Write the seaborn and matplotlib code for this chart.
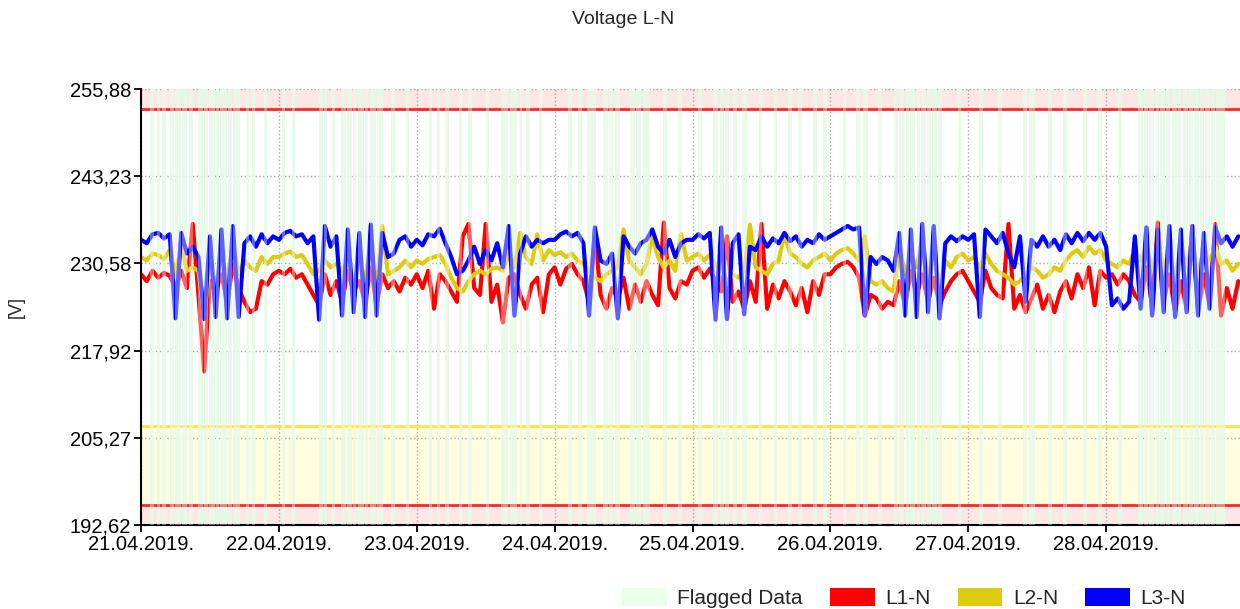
import numpy as np
import pandas as pd
import matplotlib
matplotlib.use("Agg")
import matplotlib.pyplot as plt
import matplotlib.dates as mdates
from matplotlib.patches import Patch
import seaborn as sns

# hourly readings from 21.04.2019 00:00, values in volts
l1_n = [
    229.0, 228.0, 229.5, 228.5, 229.2, 228.8, 227.0, 229.5, 227.0, 236.3, 226.0, 214.9,
    228.0, 226.5, 229.0, 225.0, 230.5, 227.0, 225.0, 223.5, 224.0, 228.0, 227.5, 229.0,
    229.5, 229.0, 229.8, 228.5, 229.0, 227.5, 226.0, 224.5, 229.0, 226.0, 228.0, 225.0,
    229.5, 226.5, 228.0, 225.0, 230.0, 224.5, 229.0, 227.0, 228.0, 226.5, 228.5, 227.5,
    229.0, 227.0, 229.5, 224.0, 229.0, 228.0, 226.5, 225.0, 234.5, 236.3, 227.0, 226.0,
    236.3, 225.0, 227.5, 222.0, 228.5, 229.0, 226.0, 224.0, 227.5, 228.5, 223.5, 229.0,
    230.0, 227.5, 229.8, 230.5, 229.0, 228.0, 225.0, 235.0, 226.0, 224.0, 227.0, 225.5,
    228.5, 224.0, 227.5, 225.0, 228.0, 226.0, 224.5, 236.5, 227.0, 225.5, 228.0, 227.5,
    229.5, 230.0, 228.5, 229.8, 228.0, 226.5, 234.5, 225.0, 226.5, 224.0, 228.0, 225.0,
    236.3, 224.0, 227.5, 225.5, 228.0, 226.5, 224.5, 227.0, 223.5, 228.0, 226.0, 229.0,
    229.0, 230.0, 230.5, 230.8, 230.0, 228.5, 223.0, 226.0, 225.5, 224.0, 225.0, 224.5,
    228.0, 224.5, 229.5, 226.0, 229.0, 225.0, 228.5, 224.5, 226.5, 228.0, 229.0, 229.5,
    228.0, 226.5, 225.0, 229.5, 227.0, 226.0, 225.5, 236.3, 224.0, 226.0, 223.5, 225.5,
    227.5, 224.0, 226.0, 223.5, 226.5, 228.0, 225.5, 229.0, 227.0, 230.0, 224.5, 229.5,
    228.5, 229.0, 227.5, 229.0, 228.0, 226.0, 225.0, 230.0, 224.5, 236.5, 225.0, 229.0,
    223.5, 228.0, 224.0, 236.0, 223.5, 229.0, 224.5, 236.3, 223.0, 227.0, 224.0, 228.0,
]
l2_n = [
    231.5, 231.0, 232.0, 231.8, 231.2, 232.5, 229.0, 233.0, 229.5, 230.0, 229.5, 223.0,
    231.0, 227.0, 232.0, 228.0, 233.5, 229.0, 231.0, 230.0, 229.5, 231.5, 230.5, 231.5,
    231.5, 232.0, 232.3, 231.5, 231.8, 230.5, 229.0, 229.5, 231.0, 230.0, 230.5, 229.5,
    231.0, 228.0, 230.5, 228.5, 233.0, 227.0, 236.0, 229.0, 229.5, 230.0, 231.0, 230.0,
    231.0, 230.5, 231.2, 231.5, 231.8, 230.5, 228.5, 227.0, 226.5, 228.0, 229.0, 229.5,
    229.0, 229.8, 230.0, 229.5, 232.0, 230.0, 235.0, 231.5, 230.5, 234.8, 231.0, 232.5,
    231.8, 232.2, 231.5, 232.0, 231.0, 230.5, 229.5, 228.5, 228.0, 229.0, 229.5, 230.0,
    235.5, 231.0, 230.0, 229.0, 230.5, 234.5, 231.5, 230.0, 231.0, 229.5, 234.8, 231.0,
    231.5, 232.0, 231.0, 231.8, 230.5, 229.5, 228.0, 229.0, 228.5, 229.5, 236.2, 230.0,
    229.5, 229.0, 230.5, 231.0, 234.8, 232.0, 231.5, 230.5, 230.0, 231.0, 231.5, 232.0,
    231.0, 232.0, 232.5, 232.8, 232.0, 231.0, 234.5, 228.0, 227.5, 228.0, 227.0, 226.5,
    233.0, 229.0, 232.0, 230.0, 234.0, 227.5, 233.5, 226.0, 231.0, 230.0, 231.5, 232.0,
    231.0, 231.5, 230.0, 232.0, 230.5, 229.5, 229.0, 228.5, 227.5, 228.0, 229.0, 230.0,
    229.5, 228.5, 229.0, 230.0, 229.5, 231.0, 232.0, 232.5, 231.5, 233.0, 232.0, 232.5,
    231.0, 230.5, 230.0, 231.0, 230.5, 232.5, 231.0, 233.0, 229.5, 233.5, 230.0, 232.0,
    228.5, 233.0, 230.0, 234.0, 229.0, 232.5, 231.0, 233.0, 230.5, 231.0, 229.5, 230.5,
]
l3_n = [
    234.0, 233.5, 234.8, 235.0, 234.2, 234.8, 222.6, 235.0, 232.0, 233.0, 231.5, 222.5,
    234.5, 222.8, 235.5, 222.6, 236.0, 222.8, 233.5, 234.5, 233.0, 234.8, 233.5, 234.5,
    234.0, 235.0, 235.3, 234.5, 234.8, 233.5, 234.5, 222.4, 236.0, 233.0, 234.5, 223.0,
    235.5, 223.5, 235.0, 222.8, 236.2, 223.0, 235.0, 231.5, 232.0, 234.0, 234.5, 233.0,
    234.0, 233.2, 234.8, 234.5, 235.6, 233.5, 231.5, 229.0, 229.5, 231.0, 233.0, 230.5,
    232.5, 231.0, 233.5, 230.0, 236.0, 223.0, 232.0, 234.5, 233.0, 234.0, 233.5, 234.0,
    234.0, 234.8, 235.2, 234.5, 235.0, 233.5, 223.0, 235.8, 231.0, 230.5, 232.0, 222.6,
    234.5, 233.0, 232.0, 233.5, 234.0, 235.5, 233.0, 232.0, 234.0, 231.5, 233.5, 234.0,
    234.0, 234.8, 234.2, 235.0, 222.4, 235.8, 222.5, 233.5, 234.8, 223.2, 233.0, 232.5,
    234.5, 233.0, 234.2, 233.5, 235.0, 233.8, 234.5, 233.0, 234.0, 233.5, 234.8, 234.0,
    234.5, 235.0, 235.5, 236.0, 235.5, 235.8, 223.0, 231.5, 230.5, 231.5, 231.0, 229.5,
    235.0, 223.0, 235.5, 222.8, 236.3, 223.5, 236.0, 222.6, 233.5, 234.5, 233.8, 234.5,
    234.0, 234.8, 222.8, 235.5, 234.5, 233.5, 235.0, 232.0, 230.0, 234.5, 225.0, 234.0,
    233.0, 234.5, 233.0, 234.0, 232.5, 234.8, 233.5, 235.0, 233.8, 235.0, 234.0, 235.0,
    233.0, 224.5, 225.5, 224.0, 225.0, 234.5, 224.0, 235.8, 223.0, 235.5, 223.5, 236.0,
    222.8, 235.5, 223.5, 236.0, 223.0, 235.0, 224.0, 235.8, 233.5, 234.5, 233.0, 234.5,
]

# flagged intervals, hours after 21.04.2019 00:00
flagged = [
    (1.5, 2.2), (2.7, 3.3), (3.7, 4.3), (5.0, 5.8), (6.0, 6.9), (7.1, 8.0),
    (8.4, 9.0), (9.9, 10.8), (11.0, 11.7), (11.9, 12.8), (13.0, 13.6),
    (13.8, 14.9), (15.1, 15.8), (16.0, 17.2), (18.2, 18.8), (19.3, 19.9),
    (21.4, 22.0),
    (24.5, 25.1), (26.2, 26.8), (30.9, 31.6), (31.8, 32.4), (33.2, 33.8),
    (34.8, 35.6), (35.8, 36.7), (36.9, 37.5), (37.7, 38.8), (39.0, 39.6),
    (39.8, 40.9), (41.1, 42.2), (43.6, 44.2), (46.1, 46.7),
    (50.1, 50.7), (51.5, 52.1), (53.0, 53.6), (55.3, 55.9), (57.0, 57.6),
    (60.0, 60.6), (62.6, 63.8), (64.3, 65.4), (65.9, 66.4), (67.1, 67.7),
    (69.2, 69.8),
    (74.4, 75.0), (76.1, 76.7), (77.6, 79.2), (80.5, 81.3), (81.5, 82.2),
    (82.5, 83.4), (85.2, 86.0), (86.2, 87.0), (87.3, 88.6), (90.9, 91.5),
    (93.5, 94.1),
    (97.0, 97.6), (99.6, 100.5), (100.7, 101.4), (101.6, 102.4), (103.1, 103.7),
    (104.6, 105.4), (107.5, 108.1), (110.1, 110.7), (112.7, 113.3),
    (114.4, 115.0), (117.0, 117.6), (118.8, 119.4),
    (122.2, 122.8), (124.5, 125.1), (125.6, 126.6), (128.3, 128.9),
    (131.0, 131.8), (132.0, 132.9), (133.1, 133.7), (133.9, 134.8),
    (135.0, 135.6), (135.8, 136.7), (136.9, 137.5), (137.7, 138.5),
    (138.7, 139.4), (142.2, 142.8),
    (145.8, 146.6), (149.2, 149.8), (153.5, 154.3), (154.5, 155.6),
    (157.9, 158.5), (160.5, 161.1), (164.0, 164.6), (166.6, 167.2),
    (170.1, 170.7), (173.5, 174.4), (174.6, 175.3), (175.5, 176.4),
    (176.6, 177.2), (177.4, 178.3), (178.5, 179.2), (179.4, 180.3),
    (180.5, 181.1), (181.3, 182.2), (182.4, 183.1), (183.3, 184.2),
    (184.4, 185.0), (185.2, 186.1), (186.3, 187.0), (187.2, 188.7),
]

phases = ["L1-N", "L2-N", "L3-N"]
colors = {"L1-N": "#ff0000", "L2-N": "#dccb10", "L3-N": "#0000ff"}
y_ticks = [192.62, 205.27, 217.92, 230.58, 243.23, 255.88]
upper_limit = 253.0
lower_warn = 207.0
lower_limit = 195.5

start = pd.Timestamp("2019-04-21 00:00")
times = pd.date_range(start, periods=len(l1_n), freq="h")
df = pd.concat([
    pd.DataFrame({"time": times, "voltage": vals, "phase": name})
    for name, vals in zip(phases, [l1_n, l2_n, l3_n])
], ignore_index=True)

sns.set_theme(style="white")
plt.rcParams["font.family"] = ["Liberation Sans", "DejaVu Sans"]

fig = plt.figure(figsize=(12.4, 6.09), dpi=100)
ax = fig.add_axes([141 / 1240, 1 - 525 / 609, 1099 / 1240, 436 / 609])

# limit bands
ax.axhspan(upper_limit, y_ticks[-1], color="#fde6e6", lw=0, zorder=0)
ax.axhspan(y_ticks[0], lower_limit, color="#fde6e6", lw=0, zorder=0)
ax.axhspan(lower_limit, lower_warn, color="#fffde0", lw=0, zorder=0)

# flagged data: green stripe behind, white wash over the lines
for s, e in flagged:
    t0, t1 = start + pd.Timedelta(hours=s), start + pd.Timedelta(hours=e)
    ax.axvspan(t0, t1, color="#d6f7d6", alpha=0.8, lw=0, zorder=0.6)
    ax.axvspan(t0, t1, color="white", alpha=0.38, lw=0, zorder=3)

sns.lineplot(data=df, x="time", y="voltage", hue="phase", hue_order=phases,
             palette=colors, estimator=None, linewidth=3, legend=False,
             ax=ax, zorder=2)

ax.axhline(upper_limit, color="#ff2626", lw=2, zorder=2.2)
ax.axhline(lower_limit, color="#ff2626", lw=2, zorder=2.2)
ax.axhline(lower_warn, color="#f8e44a", lw=2, zorder=2.2)

ax.set_xlim(start, start + pd.Timedelta(hours=191.3))
ax.set_ylim(y_ticks[0], y_ticks[-1])
ax.set_yticks(y_ticks)
ax.set_yticklabels([f"{v:.2f}".replace(".", ",") for v in y_ticks])
ax.xaxis.set_major_locator(mdates.DayLocator())
ax.xaxis.set_major_formatter(mdates.DateFormatter("%d.%m.%Y."))

ax.grid(True, linestyle=":", color="#a8a8a8", lw=1)
for side in ["top", "right"]:
    ax.spines[side].set_visible(False)
for side in ["left", "bottom"]:
    ax.spines[side].set_color("black")
    ax.spines[side].set_linewidth(1.5)
ax.tick_params(direction="out", length=5, width=1.3, colors="black",
               labelsize=14.5, left=True, bottom=True, pad=2)

ax.set_xlabel("")
ax.set_ylabel("[V]", fontsize=13)
ax.yaxis.set_label_coords((25 - 141) / 1099, 0.5)

fig.text(623 / 1240, 1 - 20 / 609, "Voltage L-N", ha="center", va="center",
         fontsize=14)

handles = [Patch(facecolor="#ebfdeb", edgecolor="none"),
           Patch(facecolor=colors["L1-N"], edgecolor="none"),
           Patch(facecolor=colors["L2-N"], edgecolor="none"),
           Patch(facecolor=colors["L3-N"], edgecolor="none")]
fig.legend(handles, ["Flagged Data"] + phases, loc="center",
           bbox_to_anchor=(904 / 1240, 1 - 598 / 609), ncol=4, frameon=False,
           fontsize=15, handlelength=2.15, handleheight=1.0,
           handletextpad=0.5, columnspacing=1.3)

fig.savefig("out.png", dpi=100)
